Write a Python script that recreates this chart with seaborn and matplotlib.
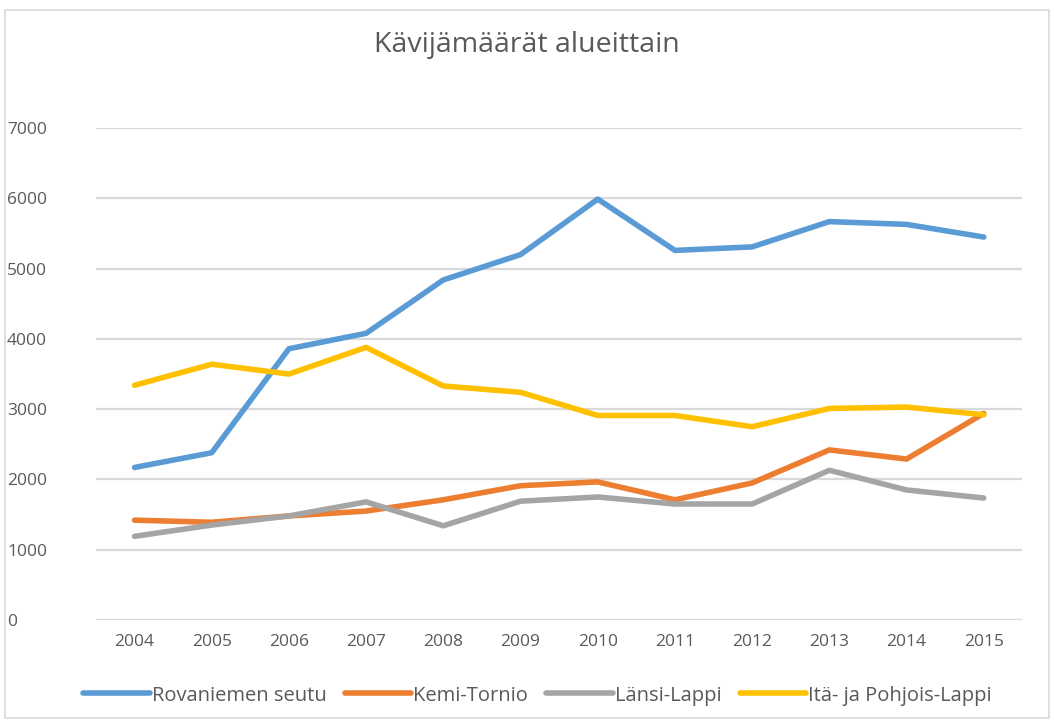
import pandas as pd
import seaborn as sns
import matplotlib.pyplot as plt
from matplotlib.patches import Rectangle

years = [2004, 2005, 2006, 2007, 2008, 2009, 2010, 2011, 2012, 2013, 2014, 2015]
rovaniemi = [2170, 2380, 3860, 4080, 4840, 5200, 5990, 5260, 5310, 5670, 5630, 5450]
kemi_tornio = [1420, 1390, 1480, 1550, 1710, 1910, 1965, 1710, 1950, 2420, 2290, 2940]
lansi_lappi = [1190, 1350, 1480, 1680, 1340, 1690, 1750, 1650, 1650, 2130, 1850, 1735]
ita_pohjois = [3340, 3640, 3500, 3880, 3330, 3240, 2910, 2910, 2750, 3010, 3030, 2920]

series_names = ["Rovaniemen seutu", "Kemi-Tornio", "Länsi-Lappi", "Itä- ja Pohjois-Lappi"]
colors = ["#5b9bd5", "#ed7d31", "#a5a5a5", "#ffc000"]

frames = []
for name, vals in zip(series_names, [rovaniemi, kemi_tornio, lansi_lappi, ita_pohjois]):
    frames.append(pd.DataFrame({"Vuosi": [str(y) for y in years], "Kävijät": vals, "Alue": name}))
df = pd.concat(frames)

sns.set_style("white")
plt.rcParams["font.family"] = ["Liberation Sans Narrow", "Open Sans", "DejaVu Sans"]
text_color = "#595959"

fig = plt.figure(figsize=(10.54, 7.2), dpi=100)
fig.patches.append(Rectangle((0.005, 0.003), 0.99, 0.983, transform=fig.transFigure,
                             fill=False, edgecolor="#d9d9d9", linewidth=1.2))
ax = fig.add_axes([0.091, 0.139, 0.879, 0.683])

sns.lineplot(data=df, x="Vuosi", y="Kävijät", hue="Alue", palette=colors,
             linewidth=4.0, ax=ax, sort=False, legend=True)

ax.set_ylim(0, 7000)
ax.set_xlim(-0.5, len(years) - 0.5)
ax.set_yticks(range(0, 7001, 1000))
ax.yaxis.grid(True, color="#d9d9d9", linewidth=1.6)
ax.set_axisbelow(True)
for s in ax.spines.values():
    s.set_visible(False)
ax.tick_params(axis="both", length=0, labelsize=12.5, colors=text_color)
ax.tick_params(axis="x", pad=10)
ax.set_xlabel("")
ax.set_ylabel("")
for lbl in ax.get_yticklabels():
    lbl.set_horizontalalignment("left")
ax.yaxis.set_tick_params(pad=64)

fig.text(0.5, 0.937, "Kävijämäärät alueittain", ha="center", va="center",
         fontsize=20.5, color=text_color)

handles, labels = ax.get_legend_handles_labels()
for h in handles:
    h.set_linewidth(4.0)
ax.legend(handles, labels, loc="center", bbox_to_anchor=(0.51, 0.034),
          bbox_transform=fig.transFigure, ncol=4, frameon=False, fontsize=14.5,
          labelcolor=text_color, handlelength=3.3, handletextpad=0.1, columnspacing=0.9)

plt.savefig("out.png", dpi=100)
